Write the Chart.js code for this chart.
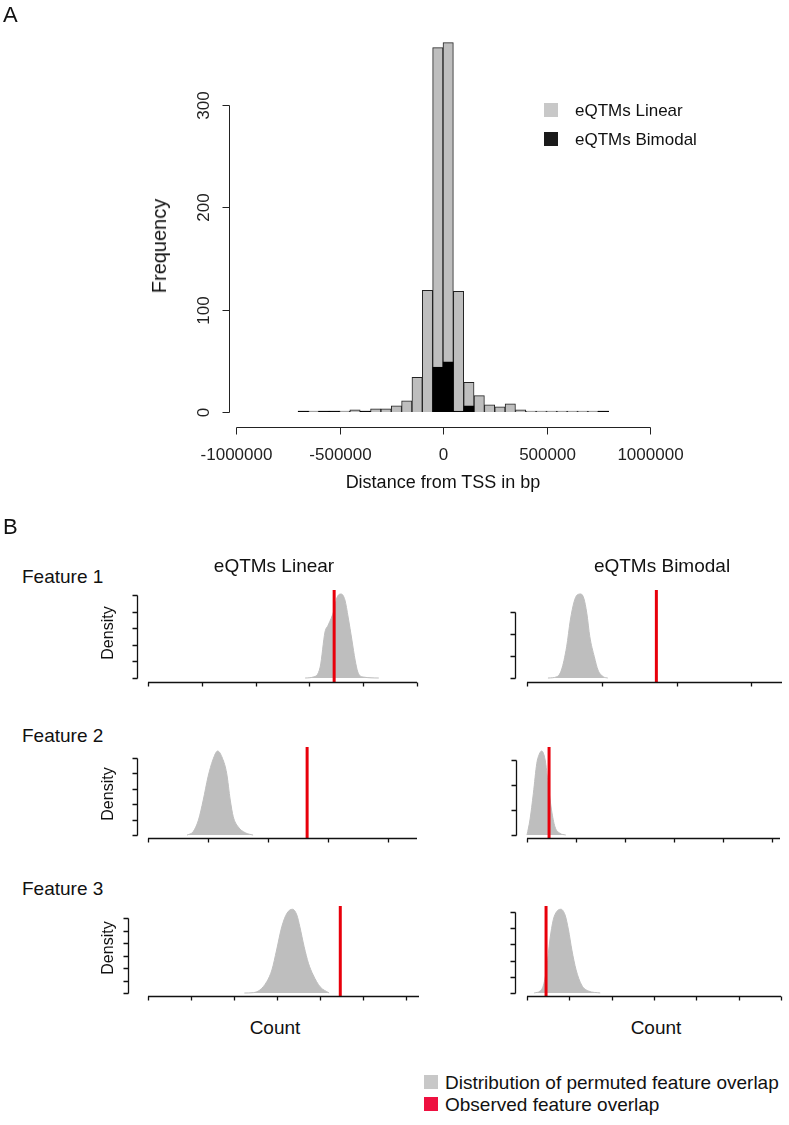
<!DOCTYPE html>
<html>
<head>
<meta charset="utf-8">
<script src="https://cdn.jsdelivr.net/npm/chart.js@4.4.1/dist/chart.umd.min.js"></script>
<style>
body { margin: 0; background: #fff; }
#page { position: relative; width: 789px; height: 1125px; overflow: hidden; background: #fff;
        font-family: "Liberation Sans", Arial, sans-serif; color: #111; }
canvas { position: absolute; }
.t { position: absolute; white-space: nowrap; line-height: 1; }
.c { transform: translate(-50%, -50%); }
.r { transform: translate(-50%, -50%) rotate(-90deg); }
.l { transform: translateY(-50%); }
.sq { position: absolute; width: 14px; height: 14px; }
</style>
</head>
<body>
<div id="page">
  <canvas id="hist" width="789" height="500" style="left:0;top:0"></canvas>
  <canvas id="p1"></canvas><canvas id="p2"></canvas>
  <canvas id="p3"></canvas><canvas id="p4"></canvas>
  <canvas id="p5"></canvas><canvas id="p6"></canvas>

  <div class="t l" style="left:3px;top:15px;font-size:22px">A</div>
  <div class="t r" style="left:159px;top:246px;font-size:20px">Frequency</div>
  <div class="t c" style="left:443px;top:482px;font-size:18px">Distance from TSS in bp</div>
  <div class="sq" style="left:544px;top:103px;background:#c8c8c8"></div>
  <div class="sq" style="left:544px;top:132px;background:#1a1a1a"></div>
  <div class="t l" style="left:575px;top:110px;font-size:17px">eQTMs Linear</div>
  <div class="t l" style="left:575px;top:139px;font-size:17px">eQTMs Bimodal</div>

  <div class="t l" style="left:3px;top:527px;font-size:22px">B</div>
  <div class="t c" style="left:274px;top:565px;font-size:19px">eQTMs Linear</div>
  <div class="t c" style="left:662px;top:565px;font-size:19px">eQTMs Bimodal</div>
  <div class="t l" style="left:22px;top:576px;font-size:19px">Feature 1</div>
  <div class="t l" style="left:22px;top:735px;font-size:19px">Feature 2</div>
  <div class="t l" style="left:22px;top:888px;font-size:19px">Feature 3</div>
  <div class="t r" style="left:108px;top:633px;font-size:16px">Density</div>
  <div class="t r" style="left:108px;top:794px;font-size:16px">Density</div>
  <div class="t r" style="left:108px;top:948px;font-size:16px">Density</div>
  <div class="t c" style="left:275px;top:1027px;font-size:19px">Count</div>
  <div class="t c" style="left:656px;top:1027px;font-size:19px">Count</div>

  <div class="sq" style="left:424px;top:1075px;background:#c8c8c8"></div>
  <div class="sq" style="left:424px;top:1097px;background:#ee1040"></div>
  <div class="t l" style="left:445px;top:1082px;font-size:19px">Distribution of permuted feature overlap</div>
  <div class="t l" style="left:445px;top:1104px;font-size:19px">Observed feature overlap</div>
</div>
<script>
// ---- panel A: histogram of distance from TSS (bins of 50 kb)
var binCenters = [-675000, -625000, -575000, -525000, -475000, -425000, -375000, -325000, -275000, -225000,
                  -175000, -125000, -75000, -25000, 25000, 75000, 125000, 175000, 225000, 275000,
                  325000, 375000, 425000, 475000, 525000, 575000, 625000, 675000, 725000, 775000];
var linearCounts = [1, 0, 1, 1, 0, 2, 1, 3, 3, 6, 11, 34, 119, 356, 361, 118, 29, 16, 7, 5,
                    8, 2, 0, 0, 0, 1, 0, 0, 0, 1];
var bimodalCounts = [1, null, 1, 1, null, null, 1, null, null, null, null, null, null, 44, 49, 1, 6, null, null, null,
                     null, null, null, null, null, null, null, null, null, 1];
var histXTicks = [-1000000, -500000, 0, 500000, 1000000];
var histYTicks = [0, 100, 200, 300];

// ---- panel B: permutation densities (x = count, y = density)
var f1LinX = [292, 307, 320, 329, 335, 346, 351, 359, 366, 372, 379, 385, 390, 400, 429];
var f1LinY = [0, 0.06, 0.66, 2.77, 3.19, 4.10, 4.82, 5.06, 4.70, 3.67, 2.29, 1.08, 0.36, 0.06, 0];
var f1BiX = [28, 40, 46, 53, 58, 63, 67, 72, 76, 80, 84, 90, 95, 102, 108];
var f1BiY = [0, 0.06, 0.36, 1.42, 2.64, 3.47, 3.77, 3.82, 3.62, 2.94, 1.88, 0.97, 0.36, 0.06, 0];
var f2LinX = [65, 75, 84, 92, 100, 108, 116, 124, 131, 137, 142, 150, 162, 175];
var f2LinY = [0, 0.21, 0.97, 2.27, 3.78, 4.87, 5.45, 4.98, 4.01, 2.27, 1.19, 0.54, 0.15, 0];
var f2BiX = [0, 6, 13, 20, 25, 30, 37, 43, 50, 57, 67, 79];
var f2BiY = [0, 0.6, 1.67, 2.87, 3.23, 3.36, 3.0, 2.07, 1.0, 0.33, 0.07, 0];
var f3LinX = [224, 245, 260, 276, 288, 299, 311, 323, 336, 346, 353, 363, 373, 384, 400, 421];
var f3LinY = [0, 0.03, 0.24, 0.9, 1.84, 3.44, 5.3, 6.38, 6.7, 6.24, 5.3, 3.7, 2.38, 1.44, 0.5, 0];
var f3BiX = [17, 31, 39, 47, 54, 62, 70, 80, 90, 98, 106, 116, 129, 145, 173];
var f3BiY = [0, 0.12, 0.49, 1.62, 3.27, 4.51, 5.02, 5.17, 4.81, 3.89, 2.65, 1.42, 0.49, 0.12, 0];
var observedLinear = [346, 265, 447];
var observedBimodal = [173, 45, 45];

// R-style detached axes drawn from the chart's scales
var rAxes = {
  id: 'rAxes',
  afterDraw: function (chart, args, o) {
    var ctx = chart.ctx, a = chart.chartArea, xs = chart.scales.x, ys = chart.scales.y;
    ctx.save();
    ctx.strokeStyle = o.color; ctx.fillStyle = o.color; ctx.lineWidth = o.lineWidth;
    var yx = Math.round(a.left - o.yGap) + 0.5;
    var yp = o.yTicks.map(function (v) { return Math.round(ys.getPixelForValue(v)) + 0.5; });
    ctx.beginPath();
    ctx.moveTo(yx, yp[0]); ctx.lineTo(yx, yp[yp.length - 1]);
    yp.forEach(function (p) { ctx.moveTo(yx, p); ctx.lineTo(yx - o.yTickLen, p); });
    ctx.stroke();
    var xy = Math.round(a.bottom + o.xGap) + 0.5;
    var xp = o.xTicks.map(function (v) { return Math.round(xs.getPixelForValue(v)) + 0.5; });
    var x0 = o.xLine === 'area' ? a.left : xp[0];
    var x1 = o.xLine === 'area' ? a.right : xp[xp.length - 1];
    ctx.beginPath();
    ctx.moveTo(x0, xy); ctx.lineTo(x1, xy);
    xp.forEach(function (p) { ctx.moveTo(p, xy); ctx.lineTo(p, xy + o.xTickLen); });
    ctx.stroke();
    if (o.font) {
      ctx.font = o.font; ctx.textAlign = 'center'; ctx.textBaseline = 'middle';
      o.xTicks.forEach(function (v, i) { ctx.fillText(String(v), xp[i], xy + o.xLabelGap); });
      o.yTicks.forEach(function (v, i) {
        ctx.save();
        ctx.translate(yx - o.yLabelGap, yp[i]);
        ctx.rotate(-Math.PI / 2);
        ctx.fillText(String(v), 0, 0);
        ctx.restore();
      });
    }
    ctx.restore();
  }
};

function pts(xs, ys) {
  return xs.map(function (x, i) { return { x: x, y: ys[i] }; });
}

new Chart(document.getElementById('hist'), {
  type: 'bar',
  data: {
    datasets: [{
      label: 'eQTMs Bimodal',
      data: pts(binCenters, bimodalCounts),
      backgroundColor: '#000', borderColor: '#000', borderWidth: 1,
      order: 1, clip: false
    }, {
      label: 'eQTMs Linear',
      data: pts(binCenters, linearCounts),
      backgroundColor: '#bebebe', borderColor: '#222', borderWidth: 1,
      minBarLength: 1, order: 2, clip: false
    }]
  },
  plugins: [rAxes],
  options: {
    responsive: false, animation: false, devicePixelRatio: 1,
    layout: { padding: { left: 236, right: 139, top: 105, bottom: 88 } },
    datasets: { bar: { grouped: false, barPercentage: 1, categoryPercentage: 1 } },
    scales: {
      x: { type: 'linear', min: -1000000, max: 1000000, offset: false, display: false },
      y: { type: 'linear', min: 0, max: 300, display: false }
    },
    plugins: {
      legend: { display: false }, tooltip: { enabled: false },
      rAxes: {
        color: '#222', lineWidth: 1, yGap: 7, xGap: 15, yTickLen: 7, xTickLen: 7,
        xTicks: histXTicks, yTicks: histYTicks, xLine: 'ticks',
        font: '17px "Liberation Sans", Arial, sans-serif', xLabelGap: 28, yLabelGap: 25
      }
    }
  }
});

// chart-area boxes and scale limits of the six density panels
var panels = [
  { id: 'p1', L: 148, R: 417, T: 590, B: 682, xMax: 500, yMin: -0.24, yMax: 5.30, yGap: 11,
    xTicks: [0, 100, 200, 300, 400, 500], yTicks: [0, 1, 2, 3, 4, 5], xs: f1LinX, ys: f1LinY, obs: observedLinear[0] },
  { id: 'p2', L: 527, R: 782, T: 590, B: 682, xMax: 341, yMin: -0.18, yMax: 4.0, yGap: 12,
    xTicks: [0, 100, 200, 300], yTicks: [0, 1, 2, 3], xs: f1BiX, ys: f1BiY, obs: observedBimodal[0] },
  { id: 'p3', L: 148, R: 417, T: 747, B: 838, xMax: 448, yMin: -0.19, yMax: 5.71, yGap: 11,
    xTicks: [0, 100, 200, 300, 400], yTicks: [0, 1, 2, 3, 4, 5], xs: f2LinX, ys: f2LinY, obs: observedLinear[1] },
  { id: 'p4', L: 527, R: 780, T: 747, B: 838, xMax: 516, yMin: -0.12, yMax: 3.52, yGap: 11,
    xTicks: [0, 100, 200, 300, 400, 500], yTicks: [0, 1, 2, 3], xs: f2BiX, ys: f2BiY, obs: observedBimodal[1] },
  { id: 'p5', L: 148, R: 419, T: 906, B: 996, xMax: 630, yMin: -0.24, yMax: 6.96, yGap: 20,
    xTicks: [0, 100, 200, 300, 400, 500, 600], yTicks: [0, 1, 2, 3, 4, 5, 6], xs: f3LinX, ys: f3LinY, obs: observedLinear[2] },
  { id: 'p6', L: 527, R: 781, T: 906, B: 996, xMax: 600, yMin: -0.19, yMax: 5.37, yGap: 12,
    xTicks: [0, 100, 200, 300, 400, 500, 600], yTicks: [0, 1, 2, 3, 4, 5], xs: f3BiX, ys: f3BiY, obs: observedBimodal[2] }
];

panels.forEach(function (p) {
  var cv = document.getElementById(p.id);
  var padL = 40, padT = 20, padR = 20, padB = 20;
  cv.width = p.R - p.L + padL + padR;
  cv.height = p.B - p.T + padT + padB;
  cv.style.left = (p.L - padL) + 'px';
  cv.style.top = (p.T - padT) + 'px';
  new Chart(cv, {
    type: 'line',
    data: {
      datasets: [{
        label: 'Observed feature overlap',
        data: [{ x: p.obs, y: p.yMin }, { x: p.obs, y: p.yMax }],
        borderColor: '#e8000b', borderWidth: 3, pointRadius: 0, fill: false, clip: false
      }, {
        label: 'Distribution of permuted feature overlap',
        data: pts(p.xs, p.ys),
        fill: 'origin', backgroundColor: '#bebebe', borderColor: '#bebebe', borderWidth: 1,
        pointRadius: 0, cubicInterpolationMode: 'monotone', clip: false
      }]
    },
    plugins: [rAxes],
    options: {
      responsive: false, animation: false, devicePixelRatio: 1,
      layout: { padding: { left: padL, right: padR, top: padT, bottom: padB } },
      scales: {
        x: { type: 'linear', min: 0, max: p.xMax, display: false },
        y: { type: 'linear', min: p.yMin, max: p.yMax, display: false }
      },
      plugins: {
        legend: { display: false }, tooltip: { enabled: false },
        rAxes: {
          color: '#111', lineWidth: 1.3, yGap: p.yGap, xGap: 0, yTickLen: 5, xTickLen: 4,
          xTicks: p.xTicks, yTicks: p.yTicks, xLine: 'area'
        }
      }
    }
  });
});
</script>
</body>
</html>
